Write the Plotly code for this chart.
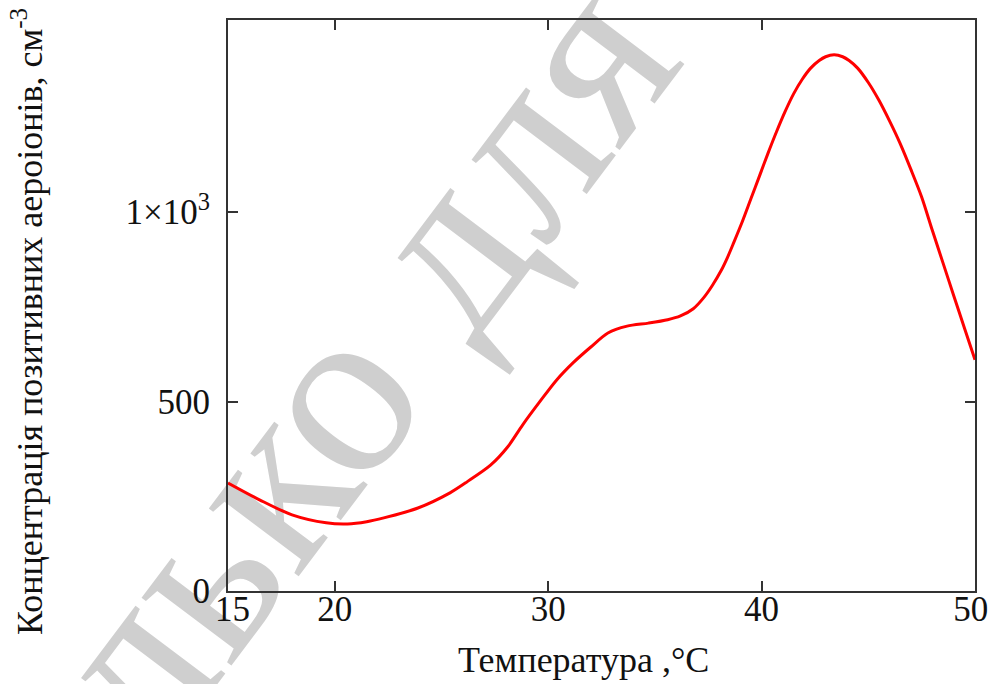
import plotly.graph_objects as go

temperature = [15.0, 16.5, 18.0, 19.6, 20.6, 21.5, 22.3, 23.9, 25.4, 26.2, 27.3, 28.1, 28.8,
               29.6, 30.4, 31.2, 32.0, 32.8, 33.7, 34.7, 35.6, 36.2, 36.8, 37.3, 37.7,
               38.1, 38.4, 38.7, 39.1, 39.5, 39.9, 40.3, 40.7, 41.1, 41.5, 41.9, 42.3,
               42.7, 43.0, 43.4, 43.8, 44.1, 44.5, 45.0, 45.5, 46.0, 46.5, 47.0, 47.5,
               48.0, 48.5, 49.0, 49.5, 50.0]
concentration = [285, 240, 201, 180, 177, 183, 193, 219, 259, 288, 332, 380, 438,
                 499, 557, 604, 644, 681, 699, 707, 716, 726, 745, 775, 807,
                 845, 880, 920, 975, 1035, 1095, 1155, 1212, 1265, 1312, 1350, 1380,
                 1400, 1410, 1415, 1410, 1400, 1380, 1342, 1295, 1240, 1180, 1112, 1040,
                 952, 866, 780, 695, 610]

x_tickvals = [15, 20, 30, 40, 50]
x_ticktext = ["\u00a015", "20", "30", "40", "50\u00a0"]
y_tickvals = [0, 500, 1000]
y_ticktext = ["0", "500", "1×10<sup>3</sup>"]

x_title = "Температура ,°C"
y_title = "Концентрація позитивних аероіонів, см<sup>-3</sup>"
watermark = "Только для"

FONT = "Liberation Serif, Times New Roman, serif"
TICK_SIZE = 35
TITLE_SIZE = 36

fig = go.Figure()
fig.add_trace(go.Scatter(
    x=temperature, y=concentration, mode="lines",
    line=dict(color="#ff0000", width=3, shape="spline", smoothing=0.8),
    showlegend=False, hoverinfo="skip"))

axis_common = dict(
    showline=True, linecolor="#333333", linewidth=2, mirror="ticks",
    ticks="inside", ticklen=10, tickwidth=2, tickcolor="#333333",
    showgrid=False, zeroline=False, automargin=False, ticklabeloverflow="allow",
    tickfont=dict(family=FONT, size=TICK_SIZE, color="#111111"),
)

fig.update_xaxes(range=[15, 50], tickmode="array", tickvals=x_tickvals,
                 ticktext=x_ticktext, ticklabelstandoff=-14, **axis_common)
fig.update_yaxes(range=[0, 1507], tickmode="array", tickvals=y_tickvals,
                 ticktext=y_ticktext, ticklabelstandoff=9, **axis_common)

# plot-area-relative positions (reference px converted to paper units)
def px(x):
    return (x - 228) / 747

def py(y):
    return (591 - y) / 571

fig.add_annotation(text=x_title, xref="paper", yref="paper",
                   x=px(583), y=py(660),
                   xanchor="center", yanchor="middle", showarrow=False,
                   font=dict(family=FONT, size=TITLE_SIZE, color="#111111"))
fig.add_annotation(text=y_title, xref="paper", yref="paper",
                   x=px(28), y=py(322),
                   xanchor="center", yanchor="middle", showarrow=False, textangle=-90,
                   font=dict(family=FONT, size=TITLE_SIZE, color="#111111"))

cx, cy = 258, 448
fig.add_shape(type="rect", xref="paper", yref="paper",
              x0=px(cx), x1=px(cx) + 0.001, y0=py(cy), y1=py(cy) + 0.001,
              line=dict(width=0), fillcolor="rgba(0,0,0,0)", layer="below",
              label=dict(text=watermark, textangle=-53, textposition="middle center",
                         font=dict(family=FONT, size=245, color="#cfcfcf")))

fig.update_layout(
    width=989, height=684,
    margin=dict(l=228, r=14, t=20, b=93),
    paper_bgcolor="white", plot_bgcolor="rgba(0,0,0,0)",
)

fig.write_html("out.html", config={"displayModeBar": False},
               post_script="document.body.style.margin='0';document.body.style.overflow='hidden';")
